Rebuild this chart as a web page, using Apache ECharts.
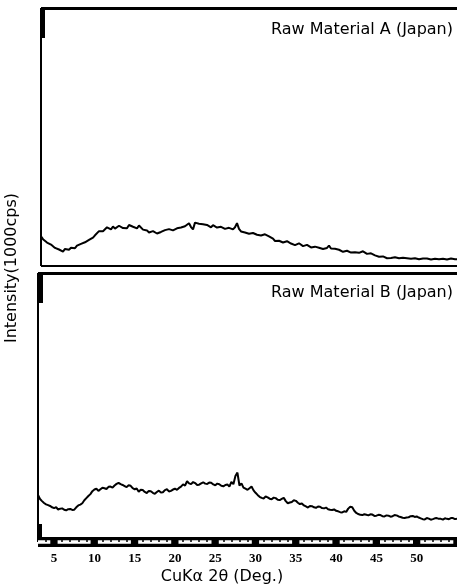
<!DOCTYPE html>
<html>
<head>
<meta charset="utf-8">
<script src="https://cdn.jsdelivr.net/npm/echarts@6/dist/echarts.min.js"></script>
<style>html,body{margin:0;padding:0;background:#fff}#c{width:457px;height:587px}</style>
</head>
<body>
<div id="c"></div>
<script>
// 2θ angles (deg)
const angles = [
3.00,3.25,3.50,3.75,4.00,4.25,4.50,4.75,5.00,5.25,5.50,5.75,6.00,6.25,6.50,6.75,7.00,7.25,7.50,7.75,
8.00,8.25,8.50,8.75,9.00,9.25,9.50,9.75,10.00,10.25,10.50,10.75,11.00,11.25,11.50,11.75,12.00,12.25,12.50,12.75,
13.00,13.25,13.50,13.75,14.00,14.25,14.50,14.75,15.00,15.25,15.50,15.75,16.00,16.25,16.50,16.75,17.00,17.25,17.50,17.75,
18.00,18.25,18.50,18.75,19.00,19.25,19.50,19.75,20.00,20.25,20.50,20.75,21.00,21.25,21.50,21.75,22.00,22.25,22.50,22.75,
23.00,23.25,23.50,23.75,24.00,24.25,24.50,24.75,25.00,25.25,25.50,25.75,26.00,26.25,26.50,26.75,27.00,27.25,27.50,27.75,
28.00,28.25,28.50,28.75,29.00,29.25,29.50,29.75,30.00,30.25,30.50,30.75,31.00,31.25,31.50,31.75,32.00,32.25,32.50,32.75,
33.00,33.25,33.50,33.75,34.00,34.25,34.50,34.75,35.00,35.25,35.50,35.75,36.00,36.25,36.50,36.75,37.00,37.25,37.50,37.75,
38.00,38.25,38.50,38.75,39.00,39.25,39.50,39.75,40.00,40.25,40.50,40.75,41.00,41.25,41.50,41.75,42.00,42.25,42.50,42.75,
43.00,43.25,43.50,43.75,44.00,44.25,44.50,44.75,45.00,45.25,45.50,45.75,46.00,46.25,46.50,46.75,47.00,47.25,47.50,47.75,
48.00,48.25,48.50,48.75,49.00,49.25,49.50,49.75,50.00,50.25,50.50,50.75,51.00,51.25,51.50,51.75,52.00,52.25,52.50,52.75,
53.00,53.25,53.50,53.75,54.00,54.25,54.50,54.75,55.00];
// Raw Material A (Japan) intensity (relative units)
const materialA = [
11.5,10.4,10.0,9.1,8.8,8.3,7.9,7.0,6.8,6.4,6.0,5.6,6.6,6.0,6.3,7.1,7.4,6.9,7.9,8.1,
8.6,8.2,9.2,9.6,10.1,10.5,11.0,11.9,12.6,13.5,13.9,13.5,14.2,15.0,14.6,14.2,15.3,14.5,14.8,15.6,
15.5,14.7,15.0,14.6,15.9,16.2,15.2,14.8,14.6,15.7,15.3,14.1,13.4,13.8,13.0,13.4,13.5,12.8,12.6,12.3,
13.2,13.6,13.9,13.4,14.3,14.0,13.8,14.4,14.6,14.2,14.9,15.6,15.4,15.9,16.6,15.1,14.2,16.8,17.2,16.4,
16.0,16.2,15.6,15.9,15.3,15.0,15.8,15.4,14.9,15.5,15.2,14.6,14.4,15.1,14.8,14.5,14.2,15.0,16.6,14.4,
13.4,13.9,13.0,13.3,12.5,12.9,12.8,12.2,12.1,12.6,11.8,12.4,12.3,11.7,11.5,11.9,10.6,9.7,9.0,9.8,
9.5,9.1,8.9,9.6,9.3,8.7,8.4,8.1,7.9,8.8,8.3,7.7,7.4,8.2,7.8,7.2,7.0,7.5,7.6,7.1,
6.9,6.6,7.3,7.0,7.9,6.8,6.5,6.7,6.1,6.3,5.7,5.5,5.3,5.9,5.8,5.2,5.0,5.3,4.8,5.1,
5.4,5.7,5.2,4.7,4.4,4.9,4.6,4.1,3.8,3.6,3.4,3.7,3.2,3.0,3.5,3.1,3.0,3.4,3.3,3.0,
3.6,3.2,2.9,3.0,3.1,2.8,2.7,3.0,2.9,2.6,3.3,2.9,2.6,2.9,2.8,2.5,2.5,2.8,2.9,2.6,
2.4,2.8,2.7,2.5,2.5,2.9,2.8,2.6,2.6];
// Raw Material B (Japan) intensity (relative units)
const materialB = [
17.5,16.0,15.2,14.5,14.0,13.7,13.4,12.9,12.6,12.9,12.1,12.4,12.5,12.0,11.8,12.2,12.3,11.9,12.0,12.9,
13.6,13.9,14.4,15.5,16.3,17.1,17.8,18.9,19.5,19.8,19.0,19.6,20.2,20.0,19.7,20.5,20.6,20.2,21.0,21.6,
22.0,21.5,21.2,20.8,20.4,21.1,20.9,20.0,19.6,19.9,18.7,19.4,19.3,18.6,18.2,19.0,18.9,18.3,17.9,18.6,
19.1,18.4,18.5,19.3,19.6,18.8,19.0,19.5,19.8,19.4,20.1,20.6,21.4,21.0,22.6,21.8,21.5,22.3,21.9,21.2,
21.3,21.8,22.2,21.7,21.6,22.1,22.0,21.4,21.1,21.7,21.5,20.9,20.7,21.2,21.4,20.6,22.3,21.5,24.5,25.8,
21.0,21.8,20.2,19.8,19.4,20.0,20.6,19.2,18.3,17.5,16.8,16.4,16.2,16.9,16.6,16.1,15.9,16.5,16.3,15.7,
15.6,16.0,16.4,15.2,14.4,14.7,14.9,15.5,15.3,14.6,14.1,14.3,13.6,13.2,12.8,13.4,13.3,12.9,12.7,13.2,
13.1,12.6,12.5,12.8,12.2,12.0,11.9,12.1,11.6,11.4,11.1,11.0,11.4,11.2,12.4,13.1,12.9,11.6,10.8,10.4,
10.1,10.0,10.3,10.1,9.9,10.3,10.2,9.7,9.8,10.1,10.0,9.6,9.5,9.9,9.8,9.4,9.6,10.0,9.9,9.5,
9.3,9.0,8.9,9.1,9.2,9.6,9.7,9.3,9.5,9.1,8.8,8.5,8.4,8.9,8.7,8.3,8.5,8.8,8.9,8.6,
8.6,8.3,8.8,8.6,8.5,8.9,8.9,8.5,8.7];
const tickLabels = [5,10,15,20,25,30,35,40,45,50];
const minorTicks = [4,6,7,8,9,11,12,13,14,16,17,18,19,21,22,23,24,26,27,28,29,31,32,33,34,36,37,38,39,41,42,43,44,46,47,48,49,51,52,53,54];
const titles = ['Raw Material A (Japan)', 'Raw Material B (Japan)'];
const xName = 'CuKα 2θ (Deg.)';
const yName = 'Intensity(1000cps)';

const pairs = (vals) => angles.map((a, i) => [a, vals[i]]);
const hidden = {axisTick:{show:false}, axisLabel:{show:false}, splitLine:{show:false}};
function plainX(grid, pos, w){
  return Object.assign({type:'value', gridIndex:grid, position:pos, min:3, max:55,
    axisLine:{show:true, onZero:false, lineStyle:{color:'#000', width:w, cap:'butt'}}}, hidden);
}
const chart = echarts.init(document.getElementById('c'), null, {renderer:'canvas'});
chart.setOption({
  animation:false,
  backgroundColor:'#fff',
  grid:[
    {left:41, right:0, top:8, height:258},
    {left:38, right:0, top:273, height:269}
  ],
  xAxis:[
    plainX(0,'bottom',2),
    plainX(0,'top',3),
    {type:'value', gridIndex:1, position:'bottom', min:3, max:55,
      axisLine:{show:true, onZero:false, lineStyle:{color:'#000', width:10, cap:'butt'}},
      axisTick:{show:false}, splitLine:{show:false},
      axisLabel:{show:true, customValues:tickLabels, margin:10, color:'#000',
        fontFamily:'Liberation Serif', fontWeight:'bold', fontSize:13}},
    {type:'value', gridIndex:1, position:'bottom', min:3, max:55,
      axisLine:{show:true, onZero:false, lineStyle:{color:'#fff', width:3.5, cap:'butt', type:[33,7.3], dashOffset:20.7}},
      axisTick:{show:true, customValues:minorTicks, inside:true, length:3, lineStyle:{color:'#000', width:1.5}},
      axisLabel:{show:false}, splitLine:{show:false}},
    plainX(1,'top',3)
  ],
  yAxis:[
    Object.assign({type:'value', gridIndex:0, min:0, max:100,
      axisLine:{show:true, onZero:false, lineStyle:{color:'#000', width:2, cap:'butt'}}}, hidden),
    Object.assign({type:'value', gridIndex:1, min:0, max:100,
      axisLine:{show:true, onZero:false, lineStyle:{color:'#000', width:2, cap:'butt'}}}, hidden)
  ],
  series:[
    {type:'line', xAxisIndex:0, yAxisIndex:0, data:pairs(materialA), showSymbol:false,
      lineStyle:{color:'#000', width:2}, silent:true},
    {type:'line', xAxisIndex:2, yAxisIndex:1, data:pairs(materialB), showSymbol:false,
      lineStyle:{color:'#000', width:2}, silent:true}
  ],
  graphic:[
    {type:'rect', shape:{x:41, y:8, width:4, height:30}, style:{fill:'#000'}},
    {type:'rect', shape:{x:38, y:273, width:5, height:30}, style:{fill:'#000'}},
    {type:'rect', shape:{x:38, y:524, width:4, height:14}, style:{fill:'#000'}},
    {type:'text', x:453, y:30, style:{text:titles[0], textAlign:'right', textVerticalAlign:'middle', font:'16px "DejaVu Sans"', fill:'#000'}},
    {type:'text', x:453, y:293, style:{text:titles[1], textAlign:'right', textVerticalAlign:'middle', font:'16px "DejaVu Sans"', fill:'#000'}},
    {type:'text', x:222, y:577, style:{text:xName, textAlign:'center', textVerticalAlign:'middle', font:'16px "DejaVu Sans"', fill:'#000'}},
    {type:'text', x:12, y:268, rotation:Math.PI/2, style:{text:yName, textAlign:'center', textVerticalAlign:'middle', font:'16px "DejaVu Sans"', fill:'#000'}}
  ]
});
</script>
</body>
</html>
